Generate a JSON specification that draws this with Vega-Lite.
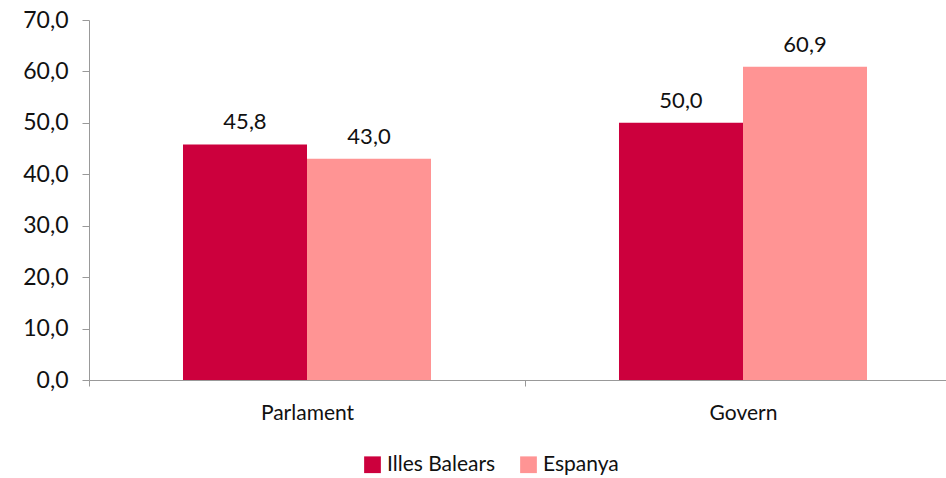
{
  "$schema": "https://vega.github.io/schema/vega-lite/v6.json",
  "width": 856,
  "height": 360,
  "autosize": "none",
  "padding": {"left": 89, "top": 20, "right": 1, "bottom": 98},
  "config": {
    "locale": {"number": {"decimal": ",", "thousands": ".", "grouping": [3], "currency": ["", " €"]}},
    "view": {"stroke": null},
    "font": "Lato"
  },
  "data": {
    "values": [
      {"cat": "Parlament", "serie": "Illes Balears", "value": 45.8},
      {"cat": "Parlament", "serie": "Espanya", "value": 43.0},
      {"cat": "Govern", "serie": "Illes Balears", "value": 50.0},
      {"cat": "Govern", "serie": "Espanya", "value": 60.9}
    ]
  },
  "encoding": {
    "x": {
      "field": "cat", "type": "nominal", "sort": ["Parlament", "Govern"],
      "scale": {"paddingInner": 0, "paddingOuter": 0, "range": [0, 872]},
      "axis": {"title": null, "labelAngle": 0, "labelFontSize": 21, "labelColor": "#111", "labelPadding": 16,
        "domainColor": "#999", "tickColor": "#999", "tickBand": "extent", "tickSize": 6, "grid": false}
    },
    "xOffset": {"field": "serie", "type": "nominal", "sort": ["Illes Balears", "Espanya"],
      "scale": {"paddingInner": 0, "paddingOuter": 0.758}},
    "y": {
      "field": "value", "type": "quantitative",
      "scale": {"domain": [0, 70], "nice": false},
      "axis": {"title": null, "values": [0, 10, 20, 30, 40, 50, 60, 70], "format": ".1f", "labelFontSize": 23, "labelColor": "#111",
        "grid": false, "domainColor": "#999", "tickColor": "#999", "tickSize": 7, "labelPadding": 14}
    }
  },
  "layer": [
    {
      "mark": {"type": "bar"},
      "encoding": {
        "color": {"field": "serie", "type": "nominal", "sort": ["Illes Balears", "Espanya"],
          "scale": {"domain": ["Illes Balears", "Espanya"], "range": ["#CC003D", "#FF9494"]},
          "legend": {"title": null, "orient": "none", "legendX": 273, "legendY": 434, "direction": "horizontal", "symbolType": "square", "symbolSize": 280,
            "symbolStrokeWidth": 0, "labelFontSize": 21, "labelColor": "#111", "columnPadding": 22, "labelOffset": 4}}
      }
    },
    {
      "mark": {"type": "text", "baseline": "bottom", "dy": -10, "fontSize": 22, "color": "#111"},
      "encoding": {
        "text": {"field": "value", "type": "quantitative", "format": ".1f"}
      }
    }
  ]
}
